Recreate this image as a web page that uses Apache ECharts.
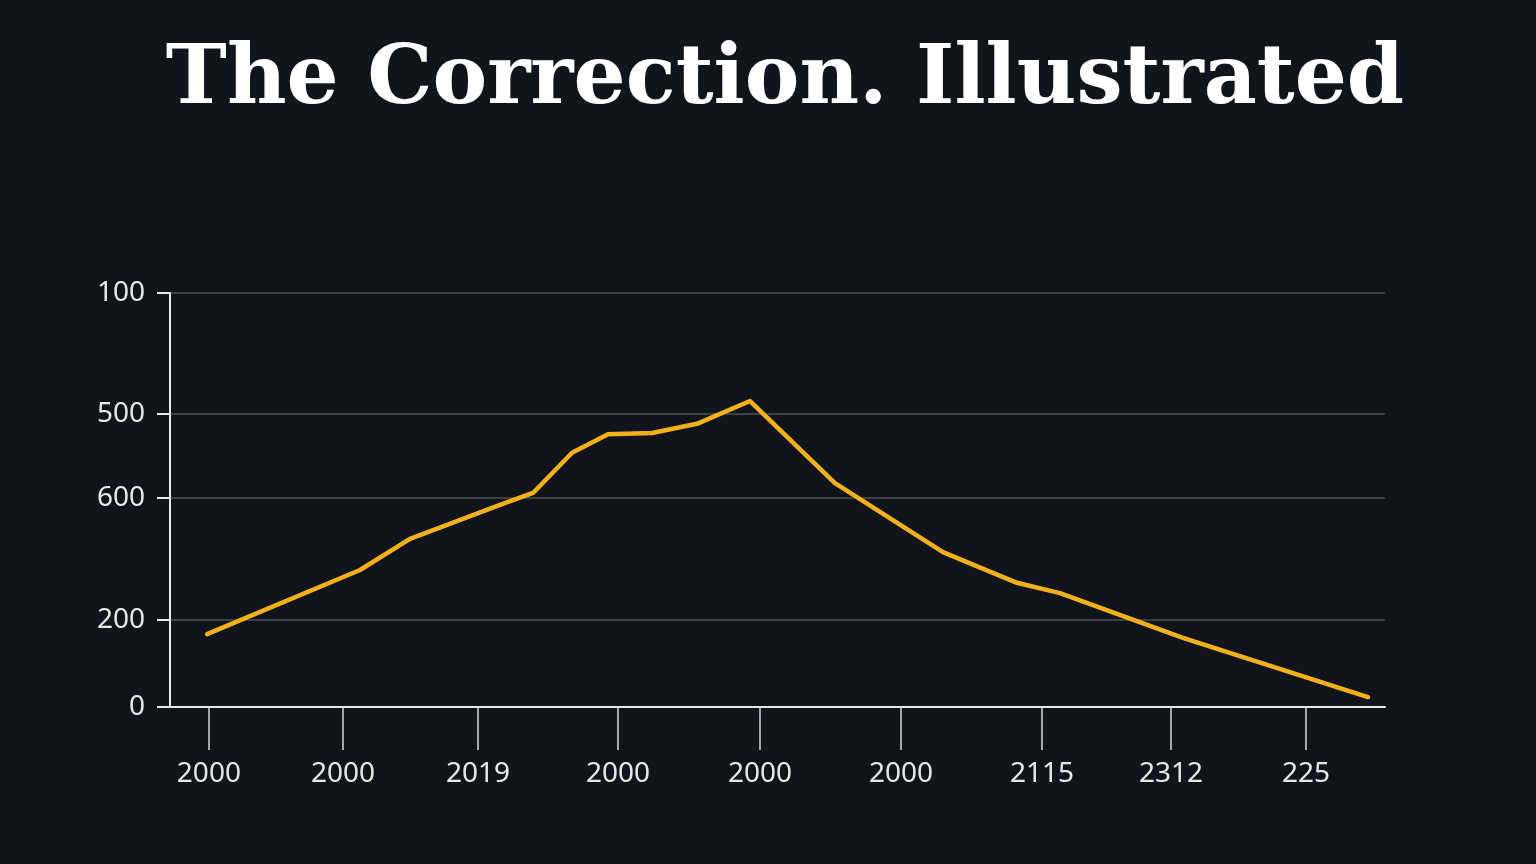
<!DOCTYPE html>
<html>
<head>
<meta charset="utf-8">
<title>The Correction. Illustrated</title>
<script src="https://cdn.jsdelivr.net/npm/echarts@6/dist/echarts.min.js"></script>
<style>
  html, body { margin: 0; padding: 0; background: #11141a; }
  #chart { width: 1536px; height: 864px; }
</style>
</head>
<body>
<div id="chart"></div>
<script>
// positions are in plot units (0-100 on both axes); the tick labels are as printed
var xTickPos = [3.2, 14.24, 25.35, 36.87, 48.56, 60.16, 71.77, 82.39, 93.5];
var xTickLabels = ['2000', '2000', '2019', '2000', '2000', '2000', '2115', '2312', '225'];
var yTickPos = [0, 21.0, 50.5, 70.8, 100];
var yTickLabels = ['0', '200', '600', '500', '100'];

// the yellow line
var lineX = [3.05, 15.64, 19.75, 27.16, 29.88, 33.09, 36.05, 39.67, 43.37, 47.74,
             54.73, 63.62, 69.71, 73.25, 83.37, 98.6];
var lineY = [17.6, 33.1, 40.6, 48.8, 51.7, 61.4, 65.9, 66.2, 68.4, 73.9,
             54.1, 37.4, 30.0, 27.5, 16.7, 2.4];

function labelFor(positions, labels) {
    return function (v) {
        for (var i = 0; i < positions.length; i++) {
            if (Math.abs(positions[i] - v) < 1e-6) return labels[i];
        }
        return '';
    };
}

var myChart = echarts.init(document.getElementById('chart'));
var option = {
    backgroundColor: '#11141a',
    animation: false,
    title: {
        text: 'The Correction. Illustrated',
        left: 780,
        textAlign: 'center',
        top: 36,
        textStyle: {
            color: '#ffffff',
            fontFamily: '"DejaVu Serif", serif',
            fontWeight: 'bold',
            fontSize: 82
        }
    },
    grid: { left: 170, right: 151, top: 293, bottom: 157 },
    xAxis: {
        type: 'value',
        min: 0,
        max: 100,
        axisLine: { show: true, lineStyle: { color: '#e8e8e8', width: 2 } },
        axisTick: {
            show: true,
            customValues: xTickPos,
            length: 43,
            lineStyle: { color: '#d8d8d8', width: 1.5 }
        },
        axisLabel: {
            customValues: xTickPos,
            formatter: labelFor(xTickPos, xTickLabels),
            margin: 53,
            color: '#e8e8e8',
            fontFamily: '"Noto Sans", sans-serif',
            fontSize: 28
        },
        splitLine: { show: false }
    },
    yAxis: {
        type: 'value',
        min: 0,
        max: 100,
        axisLine: { show: true, lineStyle: { color: '#e8e8e8', width: 2 } },
        axisTick: {
            show: true,
            customValues: yTickPos,
            length: 13,
            lineStyle: { color: '#e8e8e8', width: 2 }
        },
        axisLabel: {
            customValues: yTickPos,
            formatter: labelFor(yTickPos, yTickLabels),
            margin: 25,
            color: '#e8e8e8',
            fontFamily: '"Noto Sans", sans-serif',
            fontSize: 28
        },
        splitLine: { show: true, lineStyle: { color: '#4b4e56', width: 1.5 } }
    },
    series: [{
        type: 'line',
        data: lineX.map(function (x, i) { return [x, lineY[i]]; }),
        showSymbol: false,
        lineStyle: { color: '#f2b11c', width: 4.5, cap: 'round', join: 'round' },
        z: 5
    }]
};
myChart.setOption(option);
</script>
</body>
</html>
